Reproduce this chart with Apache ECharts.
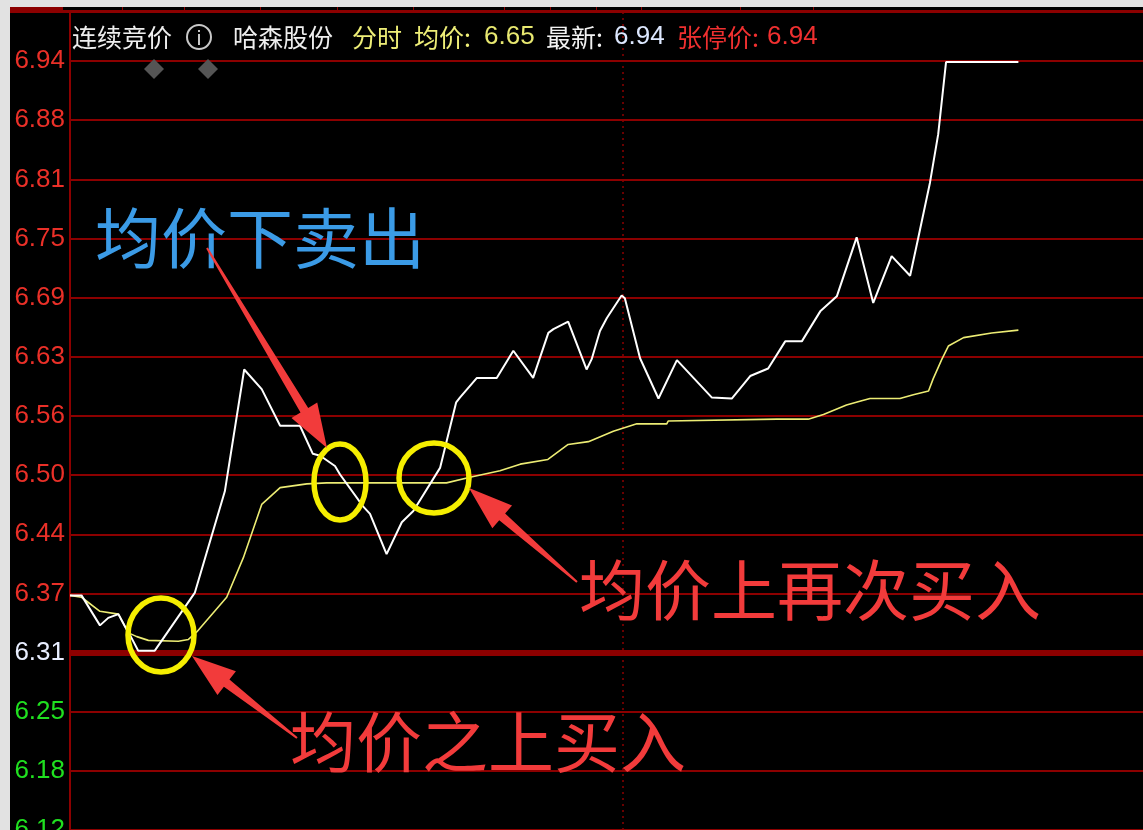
<!DOCTYPE html>
<html>
<head>
<meta charset="utf-8">
<script src="https://cdn.jsdelivr.net/npm/echarts@6.0.0/dist/echarts.min.js"></script>
<style>
  html, body { margin: 0; padding: 0; width: 1143px; height: 830px; overflow: hidden; background: #e2e2e2; }
  #bg { position: absolute; left: 10px; top: 7px; width: 1133px; height: 823px; background: #000; }
  #chart { position: absolute; left: 0; top: 0; width: 1143px; height: 830px; }
</style>
</head>
<body>
<div id="bg"></div>
<div id="chart"></div>
<script>
// ---------------- data ----------------
const prevClose = 6.31;          // previous close (zero line)
const limitUp = 6.94;            // limit-up price
// y tick labels for steps of 1% of previous close, from -3% to +10%
const yTickLabels = ['6.12','6.18','6.25','6.31','6.37','6.44','6.50','6.56','6.63','6.69','6.75','6.81','6.88','6.94'];
// minutes since open for price vertices
const priceMinutes = [0,2.5,6.5,8.3,10.5,11.9,13.2,14.8,18.4,27.1,33.6,37.8,41.6,45.6,49.9,52.7,54.3,57.5,58.6,63.6,65.1,68.7,72.0,74.5,80.3,81.7,83.8,84.6,88.3,92.6,96.2,100.5,103.8,104.9,108.1,112.1,113.2,115.0,116.5,119.7,120.4,123.7,127.7,131.7,139.3,143.6,147.6,151.5,155.2,158.8,162.8,166.4,170.7,174.3,178.3,182.3,184.1,186.6,188.4,190.1,205.8];
const priceValues = [6.371,6.371,6.339,6.347,6.351,6.338,6.327,6.312,6.312,6.374,6.482,6.612,6.591,6.552,6.552,6.522,6.520,6.509,6.500,6.466,6.458,6.415,6.449,6.461,6.507,6.535,6.577,6.582,6.603,6.603,6.632,6.603,6.651,6.655,6.663,6.612,6.623,6.653,6.667,6.691,6.688,6.624,6.581,6.622,6.582,6.581,6.605,6.613,6.642,6.642,6.674,6.690,6.753,6.683,6.733,6.712,6.753,6.811,6.863,6.940,6.940];
// minutes since open for average-price vertices
const avgMinutes = [0,2.5,6.5,10.5,12.7,14.5,17.0,23.5,25.7,27.5,34.0,37.6,41.6,45.6,51.4,55.7,81.7,86.8,93.3,97.7,103.7,108.1,112.5,117.9,123.0,129.5,129.8,153.4,160.2,163.5,168.5,171.4,173.6,180.1,183.0,186.3,187.3,189.2,190.6,193.9,200.0,205.8];
const avgValues = [6.371,6.369,6.354,6.351,6.331,6.327,6.323,6.322,6.324,6.332,6.369,6.411,6.468,6.486,6.490,6.491,6.491,6.497,6.504,6.511,6.516,6.532,6.535,6.546,6.554,6.554,6.557,6.559,6.559,6.564,6.574,6.578,6.581,6.581,6.585,6.589,6.602,6.623,6.637,6.646,6.651,6.654];

// header texts
const headerTitle = '连续竞价';
const stockName = '哈森股份';
const modeText = '分时';
const avgLabel = '均价:';
const avgNow = '6.65';
const lastLabel = '最新:';
const lastNow = '6.94';
const limitLabel = '张停价:';
const limitNow = '6.94';
// annotations
const noteSell = '均价下卖出';
const noteBuyAgain = '均价上再次买入';
const noteBuy = '均价之上买入';

// ---------------- helpers ----------------
const stepSize = prevClose * 0.01;
const toStep = p => (p - prevClose) / stepSize;
const pricePairs = priceMinutes.map((m, i) => [m, toStep(priceValues[i])]);
const avgPairs = avgMinutes.map((m, i) => [m, toStep(avgValues[i])]);

const GRID = '#8c0000';
const RED = '#f23b3b';

function arrowPoints(x1, y1, x2, y2, tailW, shaftW, headW, headL) {
  const dx = x2 - x1, dy = y2 - y1, len = Math.hypot(dx, dy);
  const ux = dx / len, uy = dy / len, nx = -uy, ny = ux;
  const bx = x2 - ux * headL, by = y2 - uy * headL;
  return [
    [x1 + nx * tailW / 2, y1 + ny * tailW / 2],
    [bx + nx * shaftW / 2, by + ny * shaftW / 2],
    [bx + nx * headW / 2, by + ny * headW / 2],
    [x2, y2],
    [bx - nx * headW / 2, by - ny * headW / 2],
    [bx - nx * shaftW / 2, by - ny * shaftW / 2],
    [x1 - nx * tailW / 2, y1 - ny * tailW / 2]
  ];
}

const hdrFont = '"Noto Sans CJK SC", sans-serif';
const numFont = '"Liberation Sans", Arial, sans-serif';
function hText(x, text, fill, font, size) {
  return { type: 'text', x: x, y: 37, z: 100,
    style: { text: text, fill: fill, fontFamily: font, fontSize: size, verticalAlign: 'middle' } };
}
function bigText(x, y, text, fill) {
  return { type: 'text', x: x, y: y, z: 100,
    style: { text: text, fill: fill, fontFamily: '"Noto Sans CJK SC", sans-serif', fontSize: 66, verticalAlign: 'middle' } };
}
function ellipse(cx, cy, rx, ry) {
  return { type: 'ellipse', z: 101, shape: { cx: cx, cy: cy, rx: rx, ry: ry },
    style: { fill: 'none', stroke: '#f5ee00', lineWidth: 5.5 } };
}
function arrow(x1, y1, x2, y2) {
  return { type: 'polygon', z: 102, shape: { points: arrowPoints(x1, y1, x2, y2, 2, 9, 30, 44) },
    style: { fill: RED } };
}
function diamond(cx, cy) {
  return { type: 'polygon', z: 100, shape: { points: [[cx, cy - 10], [cx + 10, cy], [cx, cy + 10], [cx - 10, cy]] },
    style: { fill: '#555555' } };
}

const topTicks = [61, 122, 184, 260, 337, 413, 504, 550, 596, 641, 740, 813];

const graphics = [
  // top border
  { type: 'rect', z: 90, shape: { x: 10, y: 7, width: 53, height: 6 }, style: { fill: GRID } },
  { type: 'rect', z: 90, shape: { x: 10, y: 10, width: 1133, height: 3 }, style: { fill: GRID } },
  ...topTicks.map(x => ({ type: 'rect', z: 90, shape: { x: x, y: 7, width: 1, height: 4 }, style: { fill: GRID } })),
  // header
  hText(72, headerTitle, '#eeeeee', hdrFont, 25),
  { type: 'circle', z: 100, shape: { cx: 199, cy: 37, r: 12 }, style: { fill: 'none', stroke: '#c8c8c8', lineWidth: 2 } },
  { type: 'rect', z: 100, shape: { x: 198, y: 30, width: 2, height: 2 }, style: { fill: '#c8c8c8' } },
  { type: 'rect', z: 100, shape: { x: 198, y: 34, width: 2, height: 11 }, style: { fill: '#c8c8c8' } },
  hText(233, stockName, '#eeeeee', hdrFont, 25),
  hText(352, modeText, '#eeee77', hdrFont, 25),
  hText(414, avgLabel, '#eeee77', hdrFont, 25),
  hText(484, avgNow, '#e8e870', numFont, 26),
  hText(546, lastLabel, '#f2f2f2', hdrFont, 25),
  hText(614, lastNow, '#dde8ff', numFont, 26),
  hText(677, limitLabel, '#f03030', hdrFont, 25),
  hText(767, limitNow, '#f03030', numFont, 26),
  diamond(154, 69), diamond(208, 69),
  // annotations
  bigText(95, 238, noteSell, '#3b9be6'),
  bigText(579, 590, noteBuyAgain, RED),
  bigText(290, 742, noteBuy, RED),
  ellipse(161, 635, 33, 37),
  ellipse(340, 482, 26, 38),
  ellipse(434, 478, 35, 35),
  arrow(207, 248, 327, 448),
  arrow(577, 582, 469, 488),
  arrow(297, 738, 192, 656)
];

const chart = echarts.init(document.getElementById('chart'), null, { renderer: 'canvas' });
chart.setOption({
  animation: false,
  backgroundColor: 'transparent',
  grid: { left: 70, top: 12, width: 1106, bottom: 0, containLabel: false, outerBoundsMode: 'none' },
  xAxis: {
    type: 'value', min: 0, max: 240, interval: 120,
    axisLine: { show: false }, axisTick: { show: false }, axisLabel: { show: false },
    splitLine: { show: true, lineStyle: { color: GRID, width: 1.5, type: [2, 4] } }
  },
  yAxis: {
    type: 'value', min: -3, max: 10.83, interval: 1,
    axisLine: { show: true, lineStyle: { color: GRID, width: 2 } },
    axisTick: { show: false },
    axisLabel: {
      margin: 5, fontSize: 26, fontFamily: numFont,
      formatter: v => {
        const r = Math.round(v);
        if (Math.abs(v - r) > 1e-6 || r < -3 || r > 10) return '';
        return yTickLabels[r + 3];
      },
      color: v => (v > 0.5 ? '#ea3028' : (v < -0.5 ? '#20e020' : '#e8eeff'))
    },
    splitLine: { show: true, lineStyle: { color: GRID, width: 2 } }
  },
  series: [
    {
      type: 'line', data: [], z: 1, silent: true,
      markLine: {
        z: 1, silent: true, symbol: 'none', label: { show: false },
        lineStyle: { color: GRID, width: 6, type: 'solid' },
        data: [{ yAxis: 0 }]
      }
    },
    {
      name: '均价', type: 'line', data: avgPairs, showSymbol: false, symbol: 'none', z: 3,
      lineStyle: { color: '#ecec74', width: 1.6 }
    },
    {
      name: '最新', type: 'line', data: pricePairs, showSymbol: false, symbol: 'none', z: 4,
      lineStyle: { color: '#ffffff', width: 2 }
    }
  ],
  graphic: graphics
});
</script>
</body>
</html>
